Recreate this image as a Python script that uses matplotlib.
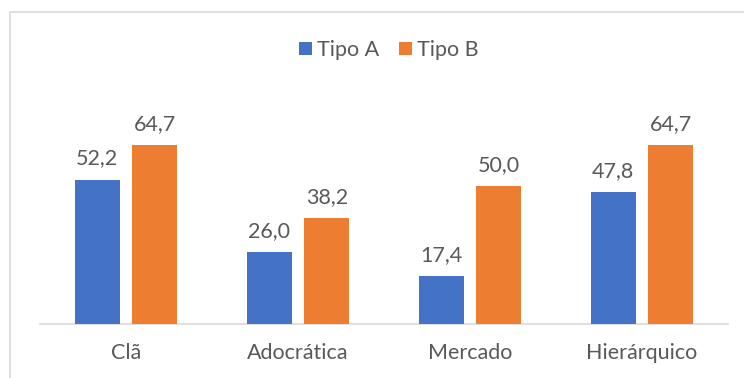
import matplotlib
matplotlib.use("Agg")
import matplotlib.pyplot as plt
from matplotlib.patches import Rectangle
import numpy as np

# ── Data ──────────────────────────────────────────────────────────────────────
categories = ["Clã", "Adocrática", "Mercado", "Hierárquico"]
tipo_a = [52.2, 26.0, 17.4, 47.8]
tipo_b = [64.7, 38.2, 50.0, 64.7]
series_labels = ["Tipo A", "Tipo B"]

BLUE = "#4472C4"
ORANGE = "#ED7D31"
TEXT = "#595959"
FS = 15.5

plt.rcParams["font.family"] = ["Lato", "DejaVu Sans"]

fig = plt.figure(figsize=(7.44, 3.78), dpi=100, facecolor="white")

# chart frame (cut off at right and bottom)
fig.add_artist(Rectangle((10 / 744, -0.1), 1.0, 1 - 12 / 378 + 0.1,
                         transform=fig.transFigure, fill=False,
                         edgecolor="#d9d9d9", linewidth=1.2))

ax = fig.add_axes([40 / 744, 54 / 378, 688 / 744, 224 / 378])

x = np.arange(len(categories))
bar_w = 0.262
off = 0.168
b1 = ax.bar(x - off, tipo_a, width=bar_w, color=BLUE, label=series_labels[0], zorder=3)
b2 = ax.bar(x + off, tipo_b, width=bar_w, color=ORANGE, label=series_labels[1], zorder=3)

for bars, vals in ((b1, tipo_a), (b2, tipo_b)):
    for rect, v in zip(bars, vals):
        ax.annotate(f"{v:.1f}".replace(".", ","),
                    (rect.get_x() + rect.get_width() / 2, rect.get_height()),
                    xytext=(0, 8), textcoords="offset points",
                    ha="center", va="bottom", fontsize=FS, color=TEXT)

ax.set_xlim(-0.5, 3.5)
ax.set_ylim(0, 81)
ax.set_yticks([])
ax.set_xticks(x)
ax.set_xticklabels(categories, fontsize=FS, color=TEXT)
ax.tick_params(axis="x", length=0, pad=14)
for s in ("top", "right", "left"):
    ax.spines[s].set_visible(False)
ax.spines["bottom"].set_color("#d9d9d9")
ax.spines["bottom"].set_linewidth(1.2)

fig.legend(loc="center", bbox_to_anchor=(389 / 744, 1 - 50 / 378), ncol=2,
           frameon=False, fontsize=FS, labelcolor=TEXT,
           handlelength=0.6, handleheight=0.6, handletextpad=0.25,
           columnspacing=0.9)

fig.savefig("out.png", dpi=100, facecolor="white")
